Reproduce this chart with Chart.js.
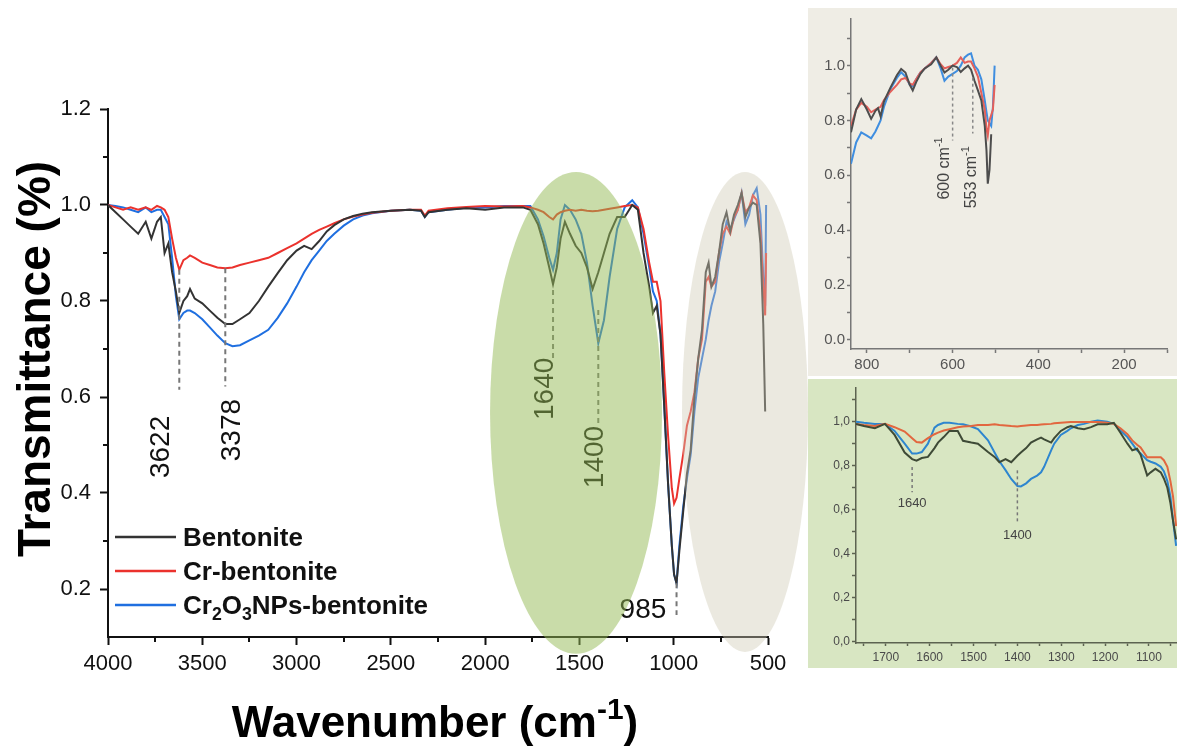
<!doctype html>
<html>
<head>
<meta charset="utf-8">
<title>FTIR spectra of bentonite samples</title>
<style>
  body { margin: 0; background: #fff; }
  #wrap { position: relative; width: 1177px; height: 748px; overflow: hidden; }
  #wrap canvas { position: absolute; }
  #main { left: 0; top: 0; }
  #farIR { left: 808px; top: 8px; background: #efede5; }
  #midIR { left: 808px; top: 379px; background: #d8e6c2; }
</style>
<script src="https://cdn.jsdelivr.net/npm/chart.js"></script>
</head>
<body>
<div id="wrap">
  <canvas id="main" width="1177" height="748"></canvas>
  <canvas id="farIR" width="369" height="368"></canvas>
  <canvas id="midIR" width="369" height="289"></canvas>
</div>
<script>
// full spectrum, cm-1
const wavenumbers = [
  4000, 3960, 3920, 3880, 3840, 3800, 3770, 3740, 3720, 3700,
  3680, 3660, 3640, 3622, 3600, 3580, 3565, 3540, 3500, 3460,
  3420, 3378, 3340, 3300, 3250, 3200, 3150, 3100, 3050, 3000,
  2960, 2920, 2880, 2840, 2800, 2750, 2700, 2650, 2600, 2500,
  2400, 2340, 2320, 2300, 2200, 2100, 2000, 1900, 1800, 1760,
  1720, 1690, 1660, 1640, 1620, 1600, 1577, 1550, 1520, 1490,
  1460, 1430, 1400, 1370, 1340, 1300, 1260, 1220, 1190, 1160,
  1130, 1110, 1090, 1070, 1050, 1030, 1010, 998, 985, 970,
  950, 930, 910, 890, 870, 850, 830, 815, 800, 780,
  760, 740, 720, 700, 680, 660, 640, 620, 600, 580,
  560, 540, 525, 515, 510
];
const bentonite = [
  1.00, 0.985, 0.97, 0.955, 0.94, 0.965, 0.93, 0.965, 0.975, 0.90,
  0.92, 0.86, 0.82, 0.775, 0.80, 0.81, 0.825, 0.805, 0.795, 0.78,
  0.765, 0.752, 0.752, 0.762, 0.775, 0.80, 0.83, 0.858, 0.885, 0.905,
  0.915, 0.908, 0.925, 0.945, 0.958, 0.97, 0.977, 0.982, 0.985, 0.988,
  0.99, 0.988, 0.975, 0.985, 0.99, 0.993, 0.99, 0.995, 0.995, 0.99,
  0.96, 0.92, 0.87, 0.835, 0.87, 0.93, 0.965, 0.94, 0.915, 0.90,
  0.87, 0.825, 0.86, 0.90, 0.94, 0.975, 0.975, 1.0, 0.99, 0.90,
  0.83, 0.775, 0.79, 0.73, 0.58, 0.42, 0.29, 0.23, 0.212, 0.28,
  0.36, 0.44, 0.49, 0.60, 0.68, 0.74, 0.86, 0.88, 0.83, 0.85,
  0.90, 0.96, 0.985, 0.945, 0.98, 1.0, 1.025, 0.975, 0.995, 1.005,
  1.0, 0.92, 0.75, 0.57, null
];
const crBentonite = [
  1.00, 0.995, 0.99, 0.995, 0.99, 0.995, 0.99, 0.998, 0.995, 0.99,
  0.975, 0.93, 0.89, 0.865, 0.885, 0.89, 0.895, 0.89, 0.88, 0.875,
  0.87, 0.868, 0.87, 0.875, 0.88, 0.885, 0.89, 0.90, 0.91, 0.92,
  0.93, 0.94, 0.948, 0.955, 0.962, 0.97, 0.976, 0.98, 0.984, 0.988,
  0.99, 0.99, 0.978, 0.988, 0.993, 0.996, 0.998, 0.997, 0.998, 0.995,
  0.99, 0.985, 0.975, 0.97, 0.98, 0.985, 0.988, 0.99, 0.988, 0.99,
  0.988, 0.987, 0.988, 0.99, 0.992, 0.995, 0.998, 1.0, 0.995, 0.95,
  0.88, 0.84, 0.84, 0.80, 0.65, 0.52, 0.41, 0.378, 0.39, 0.43,
  0.48, 0.54, 0.57, 0.61, 0.68, 0.72, 0.84, 0.85, 0.83, 0.84,
  0.90, 0.94, 0.955, 0.94, 0.975, 0.99, 1.025, 0.985, 0.995, 1.02,
  1.01, 0.94, 0.83, 0.77, 0.90
];
const cr2o3Bentonite = [
  1.00, 0.998, 0.995, 0.99, 0.985, 0.995, 0.985, 0.99, 0.99, 0.975,
  0.96, 0.89, 0.81, 0.762, 0.775, 0.78, 0.78, 0.775, 0.762, 0.745,
  0.728, 0.712, 0.706, 0.708, 0.718, 0.728, 0.74, 0.765, 0.795, 0.83,
  0.86, 0.885, 0.905, 0.925, 0.94, 0.957, 0.97, 0.978, 0.983, 0.988,
  0.99, 0.988, 0.975, 0.985, 0.99, 0.994, 0.995, 0.998, 0.998, 0.998,
  0.97, 0.935, 0.89, 0.865, 0.90, 0.97, 1.0, 0.99, 0.97, 0.94,
  0.88, 0.79, 0.712, 0.76, 0.85, 0.95, 0.995, 1.01, 0.995, 0.94,
  0.87, 0.82, 0.80, 0.73, 0.58, 0.42, 0.29, 0.23, 0.212, 0.29,
  0.37, 0.43, 0.48, 0.57, 0.64, 0.68, 0.72, 0.76, 0.79, 0.82,
  0.88, 0.92, 0.965, 0.95, 0.97, 0.99, 1.025, 0.96, 0.98, 1.02,
  1.035, 0.98, 0.85, 0.79, 1.0
];

// low-wavenumber detail, cm-1
const farWavenumbers = [
  837, 825, 813, 800, 790, 780, 774, 768, 760, 745,
  730, 720, 710, 700, 693, 685, 675, 665, 650, 638,
  628, 619, 610, 600, 590, 581, 572, 564, 557, 549,
  541, 533, 525, 521, 518, 514, 510, 506, 502
];
const farBentonite = [
  0.757, 0.84, 0.878, 0.84, 0.806, 0.835, 0.845, 0.815, 0.87, 0.92,
  0.965, 0.988, 0.975, 0.93, 0.91, 0.94, 0.97, 0.99, 1.005, 1.03,
  1.0, 0.975, 0.985, 1.0, 0.995, 0.977, 0.99, 1.0, 0.985, 0.945,
  0.91, 0.873, 0.78, 0.69, 0.57, 0.62, 0.75, null, null
];
const farCrBentonite = [
  0.78, 0.84, 0.864, 0.85, 0.83, 0.84, 0.845, 0.85, 0.875, 0.905,
  0.93, 0.95, 0.955, 0.935, 0.93, 0.95, 0.975, 0.99, 1.01, 1.03,
  1.005, 0.99, 0.995, 1.0, 1.01, 1.03, 1.01, 1.015, 1.015, 0.99,
  0.96, 0.9, 0.84, 0.77, 0.745, 0.8, 0.82, 0.84, 0.93
];
const farCr2o3Bentonite = [
  0.642, 0.72, 0.757, 0.745, 0.735, 0.76, 0.78, 0.8, 0.85, 0.915,
  0.955, 0.976, 0.96, 0.93, 0.925, 0.95, 0.975, 0.99, 1.01, 1.03,
  0.99, 0.945, 0.96, 0.97, 0.98, 1.0, 1.03, 1.04, 1.045, 1.0,
  0.985, 0.95, 0.873, 0.83, 0.8, 0.79, 0.78, 0.85, 1.0
];

// 1770-1038 cm-1 detail
const midWavenumbers = [
  1768, 1750, 1725, 1702, 1680, 1657, 1640, 1630, 1618, 1604,
  1589, 1581, 1568, 1555, 1536, 1524, 1505, 1490, 1467, 1452,
  1441, 1427, 1414, 1400, 1392, 1380, 1369, 1355, 1346, 1339,
  1323, 1316, 1301, 1286, 1278, 1262, 1248, 1232, 1217, 1195,
  1180, 1165, 1149, 1138, 1127, 1119, 1104, 1096, 1085, 1073,
  1066, 1058, 1051, 1045, 1038
];
const midBentonite = [
  0.99, 0.98, 0.97, 0.99, 0.94, 0.86, 0.83, 0.823, 0.835, 0.84,
  0.88, 0.905, 0.93, 0.958, 0.958, 0.913, 0.905, 0.9, 0.862, 0.84,
  0.816, 0.83, 0.816, 0.845, 0.86, 0.88, 0.905, 0.92, 0.928, 0.92,
  0.905, 0.925, 0.958, 0.975, 0.98, 0.97, 0.966, 0.975, 0.988, 0.988,
  0.995, 0.95, 0.9, 0.87, 0.877, 0.85, 0.756, 0.77, 0.786, 0.77,
  0.742, 0.7, 0.63, 0.55, 0.466
];
const midCrBentonite = [
  0.99, 0.985, 0.98, 0.99, 0.975, 0.955, 0.925, 0.908, 0.905, 0.925,
  0.943, 0.95, 0.96, 0.966, 0.975, 0.978, 0.98, 0.985, 0.985, 0.988,
  0.985, 0.983, 0.98, 0.978, 0.98, 0.983, 0.985, 0.985, 0.987, 0.988,
  0.99, 0.993, 0.995, 0.997, 0.998, 0.998, 0.998, 0.998, 0.998, 0.995,
  0.99, 0.97, 0.943, 0.915, 0.895, 0.883, 0.838, 0.838, 0.838, 0.838,
  0.825, 0.795, 0.73, 0.66, 0.526
];
const midCr2o3Bentonite = [
  1.0, 0.995, 0.99, 0.99, 0.958, 0.9, 0.855, 0.855, 0.862, 0.9,
  0.973, 0.985, 0.995, 0.995, 0.99, 0.988, 0.978, 0.966, 0.915, 0.86,
  0.82, 0.78, 0.74, 0.708, 0.706, 0.72, 0.74, 0.755, 0.77, 0.795,
  0.87, 0.9, 0.94, 0.958, 0.97, 0.985, 0.99, 1.0, 1.005, 1.0,
  0.99, 0.96, 0.93, 0.9, 0.87, 0.856, 0.825, 0.818, 0.81, 0.795,
  0.775, 0.73, 0.66, 0.55, 0.436
];

const seriesNames = ['Bentonite', 'Cr-bentonite', 'Cr2O3NPs-bentonite'];
const tickLabels = { mainX: [4000, 3500, 3000, 2500, 2000, 1500, 1000, 500] };

const FONT = '"Liberation Sans", Arial, sans-serif';
Chart.defaults.font.family = FONT;

const toPoints = (xs, ys) => xs.map((x, i) => ({ x: x, y: ys[i] }));

// text with sub/superscript pieces
function richText(ctx, parts, x, y, size, weight, color, align) {
  const fontOf = s => `${weight} ${s}px ${FONT}`;
  const sizeOf = p => (p.s ? size * 0.68 : size);
  let w = 0;
  for (const p of parts) { ctx.font = fontOf(sizeOf(p)); w += ctx.measureText(p.t).width; }
  let cx = align === 'center' ? x - w / 2 : x;
  ctx.fillStyle = color;
  ctx.textAlign = 'left';
  ctx.textBaseline = 'alphabetic';
  for (const p of parts) {
    ctx.font = fontOf(sizeOf(p));
    const dy = p.s === 'sup' ? -size * 0.4 : p.s === 'sub' ? size * 0.22 : 0;
    ctx.fillText(p.t, cx, y + dy);
    cx += ctx.measureText(p.t).width;
  }
}

function rotatedText(ctx, parts, cx, cy, size, weight, color) {
  ctx.save();
  ctx.translate(cx, cy);
  ctx.rotate(-Math.PI / 2);
  richText(ctx, parts, 0, size * 0.36, size, weight, color, 'center');
  ctx.restore();
}

function dashed(ctx, x, y0, y1, color, width, dash) {
  ctx.save();
  ctx.strokeStyle = color;
  ctx.lineWidth = width;
  ctx.setLineDash(dash);
  ctx.beginPath();
  ctx.moveTo(x, y0);
  ctx.lineTo(x, y1);
  ctx.stroke();
  ctx.restore();
}

// short unlabelled ticks between the labelled ones
const minorTicks = {
  id: 'minorTicks',
  afterDraw(chart, args, o) {
    const { ctx, scales: { x, y } } = chart;
    ctx.save();
    ctx.strokeStyle = o.color;
    ctx.lineWidth = o.width;
    ctx.beginPath();
    for (const v of o.x || []) {
      const px = Math.round(x.getPixelForValue(v));
      ctx.moveTo(px, x.top);
      ctx.lineTo(px, x.top + o.len);
    }
    for (const v of o.y || []) {
      const py = Math.round(y.getPixelForValue(v));
      ctx.moveTo(y.right, py);
      ctx.lineTo(y.right - o.len, py);
    }
    ctx.stroke();
    ctx.restore();
  }
};

// peak markers, legend and shaded regions on the full spectrum
const mainMarks = [
  { wn: 3622, from: 0.865, to: 0.615, text: '3622', lx: 3730, ly: 0.496, rot: true },
  { wn: 3378, from: 0.868, to: 0.622, text: '3378', lx: 3353, ly: 0.531, rot: true },
  { wn: 1640, from: 0.823, to: 0.677, text: '1640', lx: 1693, ly: 0.617, rot: true },
  { wn: 1400, from: 0.781, to: 0.546, text: '1400', lx: 1428, ly: 0.475, rot: true },
  { wn: 985, from: 0.212, to: 0.146, text: '985', lx: 1163, ly: 0.16, rot: false }
];
const regions = [
  { wn: 1518, t: 0.567, dwn: 456, dt: 0.502, fill: 'rgba(147,185,83,0.5)' },
  { wn: 622, t: 0.569, dwn: 334, dt: 0.5, fill: 'rgba(207,202,182,0.42)' }
];
const mainColors = ['#333333', '#eb322d', '#1f6fe0'];

const mainDecor = {
  id: 'mainDecor',
  afterDatasetsDraw(chart) {
    const { ctx, scales: { x, y } } = chart;
    for (const m of mainMarks) {
      const px = x.getPixelForValue(m.wn);
      dashed(ctx, px, y.getPixelForValue(m.from), y.getPixelForValue(m.to), '#777', 2, [5, 4]);
      const lx = x.getPixelForValue(m.lx), ly = y.getPixelForValue(m.ly);
      if (m.rot) rotatedText(ctx, [{ t: m.text }], lx, ly, 28, 'normal', '#111');
      else richText(ctx, [{ t: m.text }], lx, ly + 10, 28, 'normal', '#111', 'center');
    }
    // legend
    const legendParts = [
      [{ t: 'Bentonite' }],
      [{ t: 'Cr-bentonite' }],
      [{ t: 'Cr' }, { t: '2', s: 'sub' }, { t: 'O' }, { t: '3', s: 'sub' }, { t: 'NPs-bentonite' }]
    ];
    legendParts.forEach((parts, i) => {
      const ry = 537 + i * 34;
      ctx.save();
      ctx.strokeStyle = mainColors[i];
      ctx.lineWidth = 2.5;
      ctx.beginPath();
      ctx.moveTo(115, ry);
      ctx.lineTo(176, ry);
      ctx.stroke();
      ctx.restore();
      richText(ctx, parts, 183, ry + 9, 26, 'bold', '#111', 'left');
    });
    for (const r of regions) {
      const cx = x.getPixelForValue(r.wn), cy = y.getPixelForValue(r.t);
      const rx = Math.abs(x.getPixelForValue(r.wn - r.dwn) - cx);
      const ry = Math.abs(y.getPixelForValue(r.t - r.dt) - cy);
      ctx.save();
      ctx.fillStyle = r.fill;
      ctx.beginPath();
      ctx.ellipse(cx, cy, rx, ry, 0, 0, Math.PI * 2);
      ctx.fill();
      ctx.restore();
    }
  },
  afterDraw(chart) {
    const ctx = chart.ctx;
    rotatedText(ctx, [{ t: 'Transmittance (%)' }], 33, 359, 46, 'bold', '#000');
    richText(ctx, [{ t: 'Wavenumber (cm' }, { t: '-1', s: 'sup' }, { t: ')' }], 435, 737, 44, 'bold', '#000', 'center');
  }
};

function lineSet(label, xs, ys, color, width) {
  return {
    label: label,
    data: toPoints(xs, ys),
    borderColor: color,
    borderWidth: width,
    pointRadius: 0,
    tension: 0,
    fill: false
  };
}

new Chart(document.getElementById('main'), {
  type: 'line',
  data: {
    datasets: [
      lineSet(seriesNames[0], wavenumbers, bentonite, mainColors[0], 2),
      lineSet(seriesNames[1], wavenumbers, crBentonite, mainColors[1], 2),
      lineSet(seriesNames[2], wavenumbers, cr2o3Bentonite, mainColors[2], 2)
    ]
  },
  options: {
    responsive: false,
    animation: false,
    layout: { padding: { top: 109, right: 409, left: 0, bottom: 0 } },
    plugins: {
      legend: { display: false },
      tooltip: { enabled: false },
      minorTicks: { x: [3750, 3250, 2750, 2250, 1750, 1250, 750], y: [0.3, 0.5, 0.7, 0.9, 1.1], len: 5, color: '#111', width: 2 }
    },
    scales: {
      x: {
        type: 'linear', reverse: true, min: 500, max: 4000,
        afterBuildTicks: s => { s.ticks = tickLabels.mainX.map(v => ({ value: v })); },
        ticks: { font: { size: 22 }, color: '#111', padding: 6, maxRotation: 0, autoSkip: false, callback: v => String(v) },
        grid: { drawOnChartArea: false, tickLength: 8, tickWidth: 2, tickColor: '#111' },
        border: { color: '#111', width: 2 },
        afterFit: s => { s.height = 111; }
      },
      y: {
        min: 0.1, max: 1.2,
        ticks: { stepSize: 0.2, includeBounds: false, callback: v => v.toFixed(1), font: { size: 22 }, color: '#111', padding: 9 },
        grid: { drawOnChartArea: false, tickLength: 8, tickWidth: 2, tickColor: '#111' },
        border: { color: '#111', width: 2 },
        afterFit: s => { s.width = 108; }
      }
    }
  },
  plugins: [minorTicks, mainDecor]
});

// inset: 837-100 cm-1
const farColors = ['#4d4d4d', '#e5605a', '#3f8ee0'];
const farMarks = [
  { wn: 600, from: 0.993, to: 0.727, lx: 623, ly: 0.625, text: '600 cm' },
  { wn: 553, from: 0.956, to: 0.753, lx: 560, ly: 0.593, text: '553 cm' }
];
const farDecor = {
  id: 'farDecor',
  afterDatasetsDraw(chart) {
    const { ctx, scales: { x, y } } = chart;
    for (const m of farMarks) {
      dashed(ctx, x.getPixelForValue(m.wn), y.getPixelForValue(m.from), y.getPixelForValue(m.to), '#888', 1.5, [3, 3]);
      rotatedText(ctx, [{ t: m.text }, { t: '-1', s: 'sup' }], x.getPixelForValue(m.lx), y.getPixelForValue(m.ly), 16, 'normal', '#444');
    }
  }
};
new Chart(document.getElementById('farIR'), {
  type: 'line',
  data: {
    datasets: [
      lineSet(seriesNames[0], farWavenumbers, farBentonite, farColors[0], 2),
      lineSet(seriesNames[1], farWavenumbers, farCrBentonite, farColors[1], 2),
      lineSet(seriesNames[2], farWavenumbers, farCr2o3Bentonite, farColors[2], 2)
    ]
  },
  options: {
    responsive: false,
    animation: false,
    layout: { padding: { top: 10, right: 10, left: 0, bottom: 0 } },
    plugins: { legend: { display: false }, tooltip: { enabled: false } },
    scales: {
      x: {
        type: 'linear', reverse: true, min: 100, max: 837,
        ticks: { stepSize: 100, includeBounds: false, autoSkip: false, maxRotation: 0, font: { size: 15 }, color: '#555', padding: 3,
          callback: v => (v % 200 === 0 ? String(v) : '') },
        grid: { drawOnChartArea: false, tickLength: 4, tickWidth: 1.5, tickColor: '#777' },
        border: { color: '#777', width: 1.5 },
        afterFit: s => { s.height = 27; }
      },
      y: {
        min: -0.033, max: 1.17,
        ticks: { stepSize: 0.1, includeBounds: false, autoSkip: false, font: { size: 15 }, color: '#555', padding: 2,
          callback: v => (Math.round(v * 10) % 2 === 0 ? v.toFixed(1) : '') },
        grid: { drawOnChartArea: false, tickLength: 4, tickWidth: 1.5, tickColor: '#777' },
        border: { color: '#777', width: 1.5 },
        afterFit: s => { s.width = 43; }
      }
    }
  },
  plugins: [farDecor]
});

// inset: 1770-1036 cm-1
const midColors = ['#3e4a36', '#e2673f', '#2e86cf'];
const midMarks = [
  { wn: 1640, from: 0.794, to: 0.68, ly: 0.637, text: '1640' },
  { wn: 1400, from: 0.779, to: 0.54, ly: 0.489, text: '1400' }
];
const midDecor = {
  id: 'midDecor',
  afterDatasetsDraw(chart) {
    const { ctx, scales: { x, y } } = chart;
    for (const m of midMarks) {
      const px = x.getPixelForValue(m.wn);
      dashed(ctx, px, y.getPixelForValue(m.from), y.getPixelForValue(m.to), '#777', 1.5, [3, 3]);
      richText(ctx, [{ t: m.text }], px, y.getPixelForValue(m.ly) + 5, 13, 'normal', '#444', 'center');
    }
  }
};
new Chart(document.getElementById('midIR'), {
  type: 'line',
  data: {
    datasets: [
      lineSet(seriesNames[0], midWavenumbers, midBentonite, midColors[0], 2),
      lineSet(seriesNames[1], midWavenumbers, midCrBentonite, midColors[1], 2),
      lineSet(seriesNames[2], midWavenumbers, midCr2o3Bentonite, midColors[2], 2)
    ]
  },
  options: {
    responsive: false,
    animation: false,
    layout: { padding: { top: 6, right: 0, left: 0, bottom: 0 } },
    plugins: { legend: { display: false }, tooltip: { enabled: false } },
    scales: {
      x: {
        type: 'linear', reverse: true, min: 1036, max: 1768,
        ticks: { stepSize: 50, includeBounds: false, autoSkip: false, maxRotation: 0, font: { size: 12 }, color: '#4a4a4a', padding: 4,
          callback: v => (v % 100 === 0 ? String(v) : '') },
        grid: { drawOnChartArea: false, tickLength: 3, tickWidth: 1.5, tickColor: '#5c6350' },
        border: { color: '#5c6350', width: 1.5 },
        afterFit: s => { s.height = 25; }
      },
      y: {
        min: -0.005, max: 1.152,
        ticks: { stepSize: 0.1, includeBounds: false, autoSkip: false, font: { size: 12 }, color: '#4a4a4a', padding: 2,
          callback: v => (Math.round(v * 10) % 2 === 0 ? v.toFixed(1).replace('.', ',') : '') },
        grid: { drawOnChartArea: false, tickLength: 4, tickWidth: 1.5, tickColor: '#5c6350' },
        border: { color: '#5c6350', width: 1.5 },
        afterFit: s => { s.width = 48; }
      }
    }
  },
  plugins: [midDecor]
});
</script>
</body>
</html>
